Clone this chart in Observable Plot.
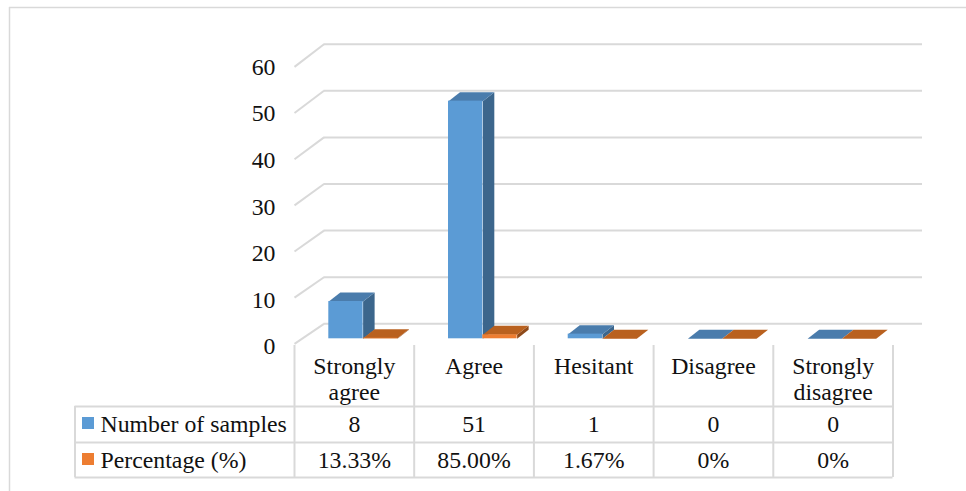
<!DOCTYPE html>
<html>
<head>
<meta charset="utf-8">
<style>
  html, body { margin: 0; padding: 0; background: #fff; }
  svg { display: block; }
</style>
<script src="https://cdn.jsdelivr.net/npm/d3@7"></script>
<script src="https://cdn.jsdelivr.net/npm/@observablehq/plot@0.6"></script>
</head>
<body>
<div id="chart"></div>
<script>
// Survey responses
const categories = ["Strongly\nagree", "Agree", "Hesitant", "Disagree", "Strongly\ndisagree"];
const sampleCounts = [8, 51, 1, 0, 0];
const percentShares = [0.1333, 0.85, 0.0167, 0, 0];
const percentLabels = ["13.33%", "85.00%", "1.67%", "0%", "0%"];
const seriesNames = ["Number of samples", "Percentage (%)"];
const yTicks = [0, 10, 20, 30, 40, 50, 60];

// Palette: front, top and side faces of each 3-D column
const blueFaces = { front: "#5b9bd5", top: "#4a7cac", side: "#3c668c" };
const orangeFaces = { front: "#ed7d31", top: "#b9611f", side: "#8e4a1a" };
const gridColor = "#d9d9d9";
const textColor = "#111";
const serif = "'Liberation Serif', 'Times New Roman', serif";
const fontSize = 23.8;

const width = 966, height = 491;
const xRange = [294, 892.5];   // table columns span
const yRange = [338.3, 58.7];  // column base to the 60 level

// Pixel to scale-unit converters for the furniture around the plot
const xAt = d3.scaleLinear().domain(xRange).range([0, categories.length]);
const yAt = d3.scaleLinear().domain(yRange).range([0, 60]);
const xUnit = (xRange[1] - xRange[0]) / categories.length;
const yUnit = (yRange[0] - yRange[1]) / 60;

// Column layout, in category units
const blueStart = 0.2866, barWidth = 0.2866;
const depthX = 11.5 / xUnit, depthY = 9 / yUnit;

function faces(values, startOffset) {
  const front = [], top = [], side = [];
  values.forEach((v, i) => {
    const a = i + startOffset, b = a + barWidth;
    front.push({ x1: a, x2: b, y1: 0, y2: v });
    const poly = (list, pts) => pts.forEach(([x, y]) => list.push({ id: i, x, y }));
    poly(top, [[a, v], [b, v], [b + depthX, v + depthY], [a + depthX, v + depthY]]);
    poly(side, [[b, 0], [b, v], [b + depthX, v + depthY], [b + depthX, depthY]]);
  });
  return { front, top, side };
}

function columnMarks(values, startOffset, colors) {
  const f = faces(values, startOffset);
  const polygon = (pts, fill) => Plot.line(pts, {
    x: "x", y: "y", z: "id", fill, stroke: "none", curve: "linear-closed"
  });
  return [
    polygon(f.side, colors.side),
    polygon(f.top, colors.top),
    Plot.rect(f.front, { x1: "x1", x2: "x2", y1: "y1", y2: "y2", fill: colors.front })
  ];
}

// Wall offset relative to the plane of the columns
const wallDx = 29.5, wallDy = -15;

// Table layout in pixels
const rowLines = [406, 442, 477];
const columnLines = d3.range(categories.length + 1);
const tableLeft = 74.5, tableHeaderTop = 345;
const rowCenters = [424, 460];
const centers = categories.map((_, i) => i + 0.5);
const textStyle = { fontFamily: serif, fontSize, fill: textColor };

const chart = Plot.plot({
  width, height,
  margin: 0,
  style: { background: "#fff", fontFamily: serif },
  x: { domain: [0, categories.length], range: xRange, axis: null },
  y: { domain: [0, 60], range: yRange, axis: null },
  marks: [
    // Outer frame
    Plot.ruleX([xAt(9)], { y1: yAt(7), y2: yAt(491), stroke: gridColor, strokeWidth: 1.5 }),
    Plot.ruleY([yAt(7)], { x1: xAt(9), x2: xAt(966), stroke: gridColor, strokeWidth: 1.5 }),

    // Back wall gridlines and the slanted side wall
    Plot.ruleY(yTicks, {
      y: d => d, x1: 0, x2: categories.length, dx: wallDx, dy: wallDy,
      stroke: gridColor, strokeWidth: 2
    }),
    Plot.link(yTicks, {
      x1: 0, x2: wallDx / xUnit,
      y1: d => d - (5 + 0.045 * d) / yUnit,
      y2: d => d - wallDy / yUnit,
      stroke: gridColor, strokeWidth: 2
    }),

    // Columns
    ...columnMarks(sampleCounts, blueStart, blueFaces),
    ...columnMarks(percentShares, blueStart + barWidth, orangeFaces),

    // Value axis labels
    Plot.axisY(yTicks, {
      anchor: "left", tickSize: 0, tickPadding: 0, dx: 275, dy: 8,
      label: null, tickFormat: d => d, fontSize, fontFamily: serif, fill: textColor
    }),

    // Data table grid
    Plot.ruleX(columnLines, {
      x: d => d, y1: yAt(tableHeaderTop), y2: yAt(rowLines[2]),
      stroke: gridColor, strokeWidth: 2
    }),
    Plot.ruleY(rowLines, {
      y: d => yAt(d), x1: xAt(tableLeft), x2: categories.length,
      stroke: gridColor, strokeWidth: 2
    }),
    Plot.ruleX([xAt(tableLeft)], {
      y1: yAt(rowLines[0]), y2: yAt(rowLines[2]), stroke: gridColor, strokeWidth: 2
    }),

    // Data table content
    Plot.text(categories, {
      x: (_, i) => centers[i], y: yAt(354), text: d => d,
      lineAnchor: "top", lineHeight: 1.13, ...textStyle
    }),
    Plot.text(sampleCounts, {
      x: (_, i) => centers[i], y: yAt(rowCenters[0]), text: d => String(d), ...textStyle
    }),
    Plot.text(percentLabels, {
      x: (_, i) => centers[i], y: yAt(rowCenters[1]), text: d => d, ...textStyle
    }),

    // Series keys in the table's first column
    Plot.text(seriesNames, {
      x: xAt(100), y: (_, i) => yAt(rowCenters[i]), text: d => d,
      textAnchor: "start", ...textStyle
    }),
    Plot.rect(seriesNames, {
      x1: xAt(82), x2: xAt(94),
      y1: (_, i) => yAt(rowCenters[i] - 7),
      y2: (_, i) => yAt(rowCenters[i] + 5),
      fill: (_, i) => [blueFaces.front, orangeFaces.front][i]
    })
  ]
});

document.getElementById("chart").appendChild(chart);
</script>
</body>
</html>
